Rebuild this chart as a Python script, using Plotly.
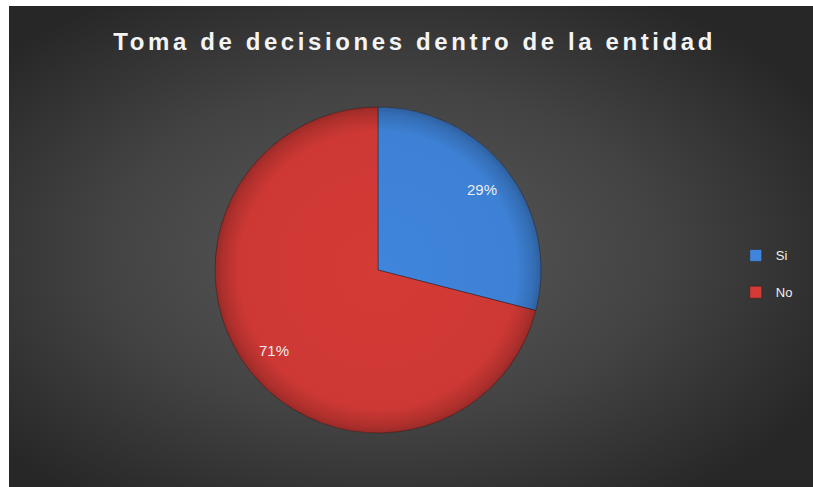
import base64
import math
import plotly.graph_objects as go

# Survey result: does decision-making happen inside the entity?
labels = ["Si", "No"]
values = [29, 71]
slice_colors = ["#3f85dc", "#d43a36"]
title_text = "Toma de decisiones dentro de la entidad"

W, H = 813, 487
frame_left, frame_top = 9, 6  # thin white frame on the left and top edges

# Dark chart area with a soft radial glow
bg_svg = """<svg xmlns='http://www.w3.org/2000/svg' width='813' height='487' viewBox='0 0 813 487' preserveAspectRatio='none'>
<defs><radialGradient id='g' cx='0.47' cy='0.52' r='0.62'>
<stop offset='0' stop-color='#5a5a5a'/>
<stop offset='0.55' stop-color='#434343'/>
<stop offset='1' stop-color='#272727'/>
</radialGradient></defs>
<rect width='813' height='487' fill='url(#g)'/></svg>"""
bg_uri = "data:image/svg+xml;base64," + base64.b64encode(bg_svg.encode()).decode()

# Pie geometry (pixels) -> paper domain
cx, cy, r = 378, 270, 163
dom_x = [(cx - r) / W, (cx + r) / W]
dom_y = [(H - cy - r) / H, (H - cy + r) / H]

# Bevel-like shading over the pie
shade_svg = """<svg xmlns='http://www.w3.org/2000/svg' width='200' height='200' viewBox='0 0 200 200'>
<defs><radialGradient id='s' cx='0.5' cy='0.5' r='0.5'>
<stop offset='0' stop-color='#000' stop-opacity='0'/>
<stop offset='0.85' stop-color='#000' stop-opacity='0.03'/>
<stop offset='0.96' stop-color='#000' stop-opacity='0.18'/>
<stop offset='1' stop-color='#000' stop-opacity='0.28'/>
</radialGradient></defs>
<circle cx='100' cy='100' r='100' fill='url(#s)'/></svg>"""
shade_uri = "data:image/svg+xml;base64," + base64.b64encode(shade_svg.encode()).decode()

# Legend entries get a blank second line so the rows sit further apart
legend_labels = [lab + "<br> " for lab in labels]

fig = go.Figure(
    go.Pie(
        labels=legend_labels,
        values=values,
        customdata=labels,
        sort=False,
        direction="clockwise",
        rotation=0,
        marker=dict(colors=slice_colors, line=dict(color="rgba(45,25,25,0.45)", width=1)),
        textinfo="none",
        domain=dict(x=dom_x, y=dom_y),
        hovertemplate="%{customdata}: %{percent:.0%}<extra></extra>",
    )
)

# Percentage labels placed along each slice's mid-angle
total = sum(values)
start = 0.0
label_r = 0.81 * r
for v in values:
    mid = start + v / total * 360 / 2
    start += v / total * 360
    ang = math.radians(mid)
    lx = cx + label_r * math.sin(ang)
    ly = cy - label_r * math.cos(ang)
    fig.add_annotation(
        x=lx / W, y=1 - ly / H, xref="paper", yref="paper",
        text=f"{v / total:.0%}", showarrow=False,
        xanchor="center", yanchor="middle",
        font=dict(family="Liberation Sans", size=15, color="#ececec"),
    )

fig.update_layout(
    width=W,
    height=H,
    margin=dict(l=0, r=0, t=0, b=0),
    paper_bgcolor="#333333",
    plot_bgcolor="rgba(0,0,0,0)",
    title=dict(
        text=title_text,
        x=0.51,
        xanchor="center",
        y=1 - 42 / H,
        yanchor="middle",
        font=dict(family="Liberation Sans", size=24, color="#f4f4f4", weight="bold"),
    ),
    legend=dict(
        x=0.905,
        y=0.42,
        xanchor="left",
        yanchor="middle",
        valign="top",
        font=dict(family="Liberation Sans", size=13, color="#f0f0f0"),
        bgcolor="rgba(0,0,0,0)",
        itemwidth=30,
    ),
    images=[
        dict(
            source=bg_uri,
            xref="paper", yref="paper",
            x=0, y=1, sizex=1, sizey=1,
            xanchor="left", yanchor="top",
            sizing="stretch",
            layer="below",
        ),
        dict(
            source=shade_uri,
            xref="paper", yref="paper",
            x=dom_x[0], y=dom_y[1],
            sizex=dom_x[1] - dom_x[0], sizey=dom_y[1] - dom_y[0],
            xanchor="left", yanchor="top",
            sizing="stretch",
            layer="above",
        ),
    ],
    shapes=[
        dict(type="rect", xref="paper", yref="paper", x0=0, x1=frame_left / W, y0=0, y1=1,
             fillcolor="white", line=dict(width=0), layer="above"),
        dict(type="rect", xref="paper", yref="paper", x0=0, x1=1, y0=1 - frame_top / H, y1=1,
             fillcolor="white", line=dict(width=0), layer="above"),
    ],
)

# Page without default body margin; widen the title's letter spacing after drawing
post = """
document.body.style.margin = '0';
document.documentElement.style.margin = '0';
document.body.style.overflow = 'hidden';
var gd = document.querySelector('.plotly-graph-div');
function spaceTitle(){ document.querySelectorAll('.gtitle').forEach(function(e){ e.style.letterSpacing='3.6px'; }); }
spaceTitle();
if (gd && gd.on) { gd.on('plotly_afterplot', spaceTitle); }
"""

fig.write_html("out.html", post_script=post)
